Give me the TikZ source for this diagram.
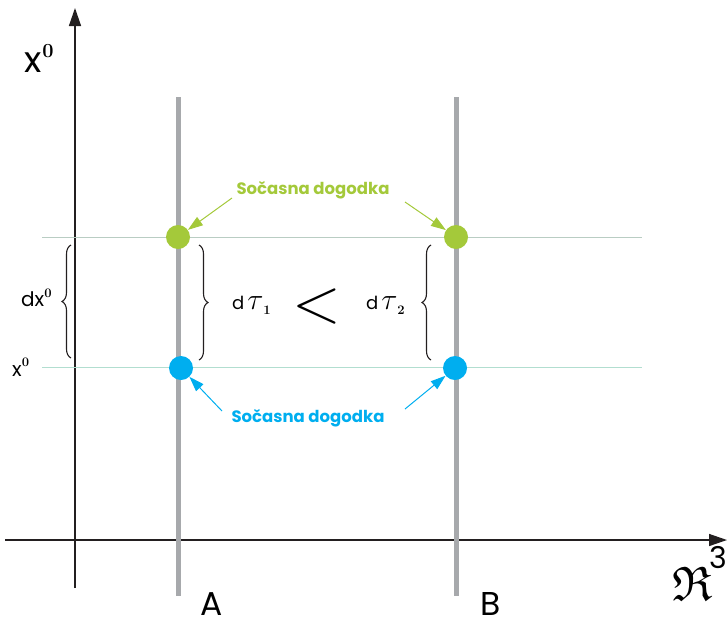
\RequirePackage{fix-cm}
\documentclass[tikz,border=0pt]{standalone}
\usepackage{amssymb}
\usepackage{fontspec}
\setmainfont{Poppins}
\usetikzlibrary{arrows.meta,decorations.pathreplacing}
\definecolor{evgreen}{RGB}{164,201,58}
\definecolor{evblue}{RGB}{0,174,239}
\definecolor{wline}{RGB}{167,169,172}
\definecolor{hlineg}{RGB}{185,205,195}
\definecolor{hlineb}{RGB}{178,222,208}
\definecolor{axisc}{RGB}{35,31,32}
% bold Computer Modern digit of a given size, raised
\newcommand{\lmsup}[3]{\raisebox{#2}{\fontencoding{OT1}\fontfamily{cmr}\fontseries{bx}\fontshape{n}\fontsize{#1}{#1}\selectfont #3}}
\tikzset{
  axis/.style={line width=1.4pt, draw=axisc, -{Triangle[length=18pt,width=12pt]}},
  worldline/.style={line width=5pt, draw=wline},
  simline/.style={line width=1pt},
  event/.style={circle, inner sep=0pt, minimum size=24pt, fill=#1},
  ptr/.style={line width=1pt, draw=#1, -{Triangle[length=15pt,width=10pt]}},
  lbl/.style={font=\fontsize{16.5}{16.5}\selectfont\bfseries, text=#1, inner sep=0pt},
  brc/.style={decorate, decoration={brace, amplitude=9pt}, line width=1.1pt, draw=axisc},
  txt/.style={inner sep=0pt, anchor=base west},
}
\begin{document}
\begin{tikzpicture}[x=1pt,y=-1pt]
\useasboundingbox (0,0) rectangle (727,622);
% axes
\coordinate (yb) at (75,588);
\coordinate (yt) at (75,8);
\coordinate (xl) at (5,540);
\coordinate (xr) at (727,540);
\draw[axis] (yb) -- (yt);
\draw[axis] (xl) -- (xr);
% simultaneity lines
\coordinate (g1) at (42,237);
\coordinate (g2) at (642,237);
\coordinate (b1) at (42,367);
\coordinate (b2) at (642,367);
\draw[simline, draw=hlineg] (g1) -- (g2);
\draw[simline, draw=hlineb] (b1) -- (b2);
% world lines
\coordinate (At) at (178,97);
\coordinate (Ab) at (178,596);
\coordinate (Bt) at (456,97);
\coordinate (Bb) at (456,596);
\draw[worldline] (At) -- (Ab);
\draw[worldline] (Bt) -- (Bb);
% events
\node[event=evgreen] (eA2) at (178,237) {};
\node[event=evgreen] (eB2) at (456,237) {};
\node[event=evblue] (eA1) at (181,368) {};
\node[event=evblue] (eB1) at (455,368) {};
% labels
\node[lbl=evgreen] (gl) at (313,190) {Sočasna dogodka};
\node[lbl=evblue] (bl) at (308,418) {Sočasna dogodka};
\coordinate (ga1) at (232,198);
\coordinate (ga2) at (405,202);
\coordinate (ba1) at (222,411);
\coordinate (ba2) at (405,409);
\draw[ptr=evgreen] (ga1) -- (eA2);
\draw[ptr=evgreen] (ga2) -- (eB2);
\draw[ptr=evblue] (ba1) -- (eA1);
\draw[ptr=evblue] (ba2) -- (eB1);
% braces
\coordinate (lb1) at (71,245);
\coordinate (lb2) at (71,358);
\draw[brc] (lb2) -- (lb1);
\coordinate (ab1) at (199,245);
\coordinate (ab2) at (199,360);
\draw[brc] (ab1) -- (ab2);
\coordinate (bb1) at (431,245);
\coordinate (bb2) at (431,360);
\draw[brc] (bb2) -- (bb1);
% texts
\node[txt, font=\fontsize{36}{36}\selectfont] (x0top) at (24,72) {x\hspace{1pt}\lmsup{20}{15pt}{0}};
\node[txt, font=\fontsize{20}{20}\selectfont] (dx0) at (21,306) {dx\lmsup{13}{9pt}{0}};
\node[txt, font=\fontsize{20}{20}\selectfont] (x0) at (12,376) {x\lmsup{13}{10pt}{0}};
\node[txt, font=\fontsize{18}{18}\selectfont] (dt1) at (232,309) {d\hspace{3pt}{\fontsize{30}{30}\selectfont$\tau$}\lmsup{13}{-5pt}{1}};
\node[txt, font=\fontsize{18}{18}\selectfont] (dt2) at (366,309) {d\hspace{3pt}{\fontsize{30}{30}\selectfont$\tau$}\lmsup{13}{-5pt}{2}};
\node[font=\fontsize{64}{64}\selectfont, inner sep=0pt] (lt) at (317,306) {$<$};
\node[txt, font=\fontsize{33}{33}\selectfont] (A) at (200,615) {A};
\node[txt, font=\fontsize{33}{33}\selectfont] (B) at (480,615) {B};
\node[txt] (R3) at (672,600) {\scalebox{1.95}{\fontsize{24.88}{24.88}\selectfont$\mathfrak{R}$}\hspace{-3pt}\raisebox{32pt}{\fontsize{30}{30}\selectfont 3}};
\end{tikzpicture}
\end{document}
